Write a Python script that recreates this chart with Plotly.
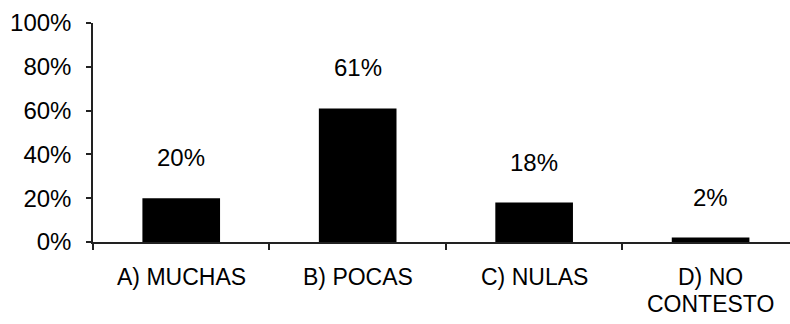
import plotly.graph_objects as go

categories = ["A) MUCHAS", "B) POCAS", "C) NULAS", "D) NO CONTESTO"]
category_lines = [["A) MUCHAS"], ["B) POCAS"], ["C) NULAS"], ["D) NO", "CONTESTO"]]
values = [20, 61, 18, 2]
value_labels = ["20%", "61%", "18%", "2%"]
y_ticks = [0, 20, 40, 60, 80, 100]
y_tick_labels = ["0%", "20%", "40%", "60%", "80%", "100%"]

FONT = "Liberation Sans, Arial, sans-serif"

fig = go.Figure()
fig.add_trace(go.Bar(
    x=categories, y=values, width=0.44,
    marker=dict(color="black", line=dict(width=0)),
    hoverinfo="skip",
))
for c, v, t in zip(categories, values, value_labels):
    fig.add_annotation(x=c, y=v, text=t, showarrow=False, yanchor="bottom",
                       yshift=25, font=dict(family=FONT, size=24, color="black"))
for c, lines in zip(categories, category_lines):
    for i, ln in enumerate(lines):
        fig.add_annotation(x=c, y=0, yref="paper", text=ln, showarrow=False,
                           yanchor="middle", yshift=-35 - 27 * i,
                           font=dict(family=FONT, size=23, color="black"))

fig.update_layout(
    width=790, height=324,
    margin=dict(l=93, r=0, t=23, b=82),
    paper_bgcolor="white", plot_bgcolor="white",
    showlegend=False,
    font=dict(family=FONT, size=24, color="black"),
)
fig.update_xaxes(
    range=[-0.5, 3.45], showline=True, linecolor="#222", linewidth=1.5,
    ticks="outside", tickson="boundaries", ticklen=6, tickcolor="#222", tickwidth=1.5,
    showgrid=False, showticklabels=False,
)
fig.update_yaxes(
    range=[0, 100], tickvals=y_ticks, ticktext=y_tick_labels,
    showline=True, linecolor="#222", linewidth=1.5,
    ticks="outside", ticklen=5, tickcolor="#222", tickwidth=1.5,
    showgrid=False, zeroline=False, ticklabelstandoff=10,
    tickfont=dict(family=FONT, size=24, color="black"),
)
fig.write_html("out.html")
